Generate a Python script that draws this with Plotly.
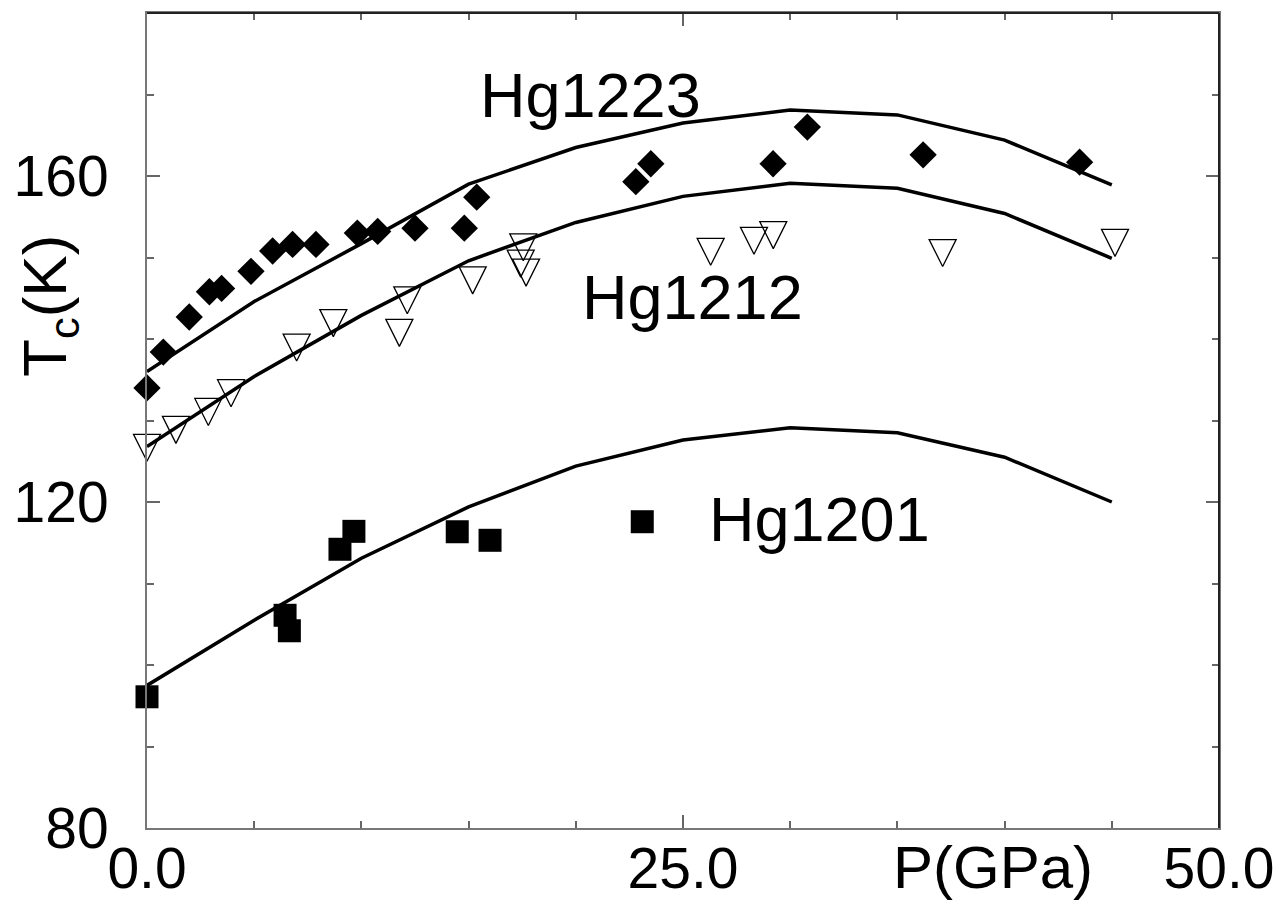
import plotly.graph_objects as go

# ---------------- data ----------------
P_MODEL = [0, 5, 10, 15, 20, 25, 30, 35, 40, 45]
TC_MODEL_1223 = [136.0, 144.6, 151.7, 159.0, 163.5, 166.5, 168.1, 167.5, 164.4, 158.9]
TC_MODEL_1212 = [126.8, 135.4, 142.9, 149.6, 154.3, 157.5, 159.1, 158.5, 155.4, 149.9]
TC_MODEL_1201 = [97.5, 105.5, 113.1, 119.4, 124.4, 127.6, 129.1, 128.5, 125.5, 120.0]

P_1223 = [0.0, 0.76, 1.97, 2.91, 3.48, 4.85, 5.86, 6.79, 7.88, 9.81, 10.76, 12.5,
          14.8, 15.38, 22.8, 23.5, 29.2, 30.8, 36.2, 43.5]
TC_1223 = [134.0, 138.4, 142.7, 145.8, 146.2, 148.3, 150.8, 151.6, 151.6, 153.0, 153.2, 153.6,
           153.6, 157.4, 159.3, 161.5, 161.5, 166.0, 162.6, 161.7]

P_1212 = [0.0, 1.35, 2.86, 3.92, 6.98, 8.69, 11.77, 12.14, 15.19, 17.55, 17.43, 17.68,
          26.29, 28.31, 29.21, 37.11, 45.15]
TC_1212 = [127.2, 129.4, 131.6, 133.9, 139.5, 142.5, 141.3, 145.3, 147.75, 151.8, 149.8, 148.7,
           151.25, 152.6, 153.3, 151.1, 152.35]

P_1201 = [0.0, 6.44, 6.64, 9.0, 9.65, 14.47, 16.0]
TC_1201 = [96.1, 106.1, 104.2, 114.2, 116.4, 116.35, 115.3]

X_TICKS = [0, 25, 50]
X_TICK_TEXT = ["0.0", "25.0", "50.0"]
Y_TICKS = [80, 120, 160]
Y_TICK_TEXT = ["80", "120", "160"]

LABELS = ["Hg1223", "Hg1212", "Hg1201"]
LABEL_POS = [(20.69, 170.0), (25.42, 145.2), (31.38, 117.94)]
KEY_POS_1201 = (23.1, 117.58)

FONT = "Liberation Sans, Arial, Helvetica, sans-serif"

fig = go.Figure()

for tc in (TC_MODEL_1223, TC_MODEL_1212, TC_MODEL_1201):
    fig.add_trace(go.Scatter(x=P_MODEL, y=tc, mode="lines",
                             line=dict(color="black", width=3.5),
                             showlegend=False, hoverinfo="skip"))

fig.add_trace(go.Scatter(x=P_1212, y=TC_1212, mode="markers", cliponaxis=False,
                         marker=dict(symbol="arrow-down-open", size=27, color="black",
                                     line=dict(width=1.3, color="black"), standoff=18),
                         showlegend=False))
fig.add_trace(go.Scatter(x=P_1223, y=TC_1223, mode="markers", cliponaxis=False,
                         marker=dict(symbol="diamond", size=21, color="black",
                                     line=dict(width=0)),
                         showlegend=False))
fig.add_trace(go.Scatter(x=P_1201, y=TC_1201, mode="markers", cliponaxis=False,
                         marker=dict(symbol="square", size=23, color="black",
                                     line=dict(width=0)),
                         showlegend=False))
# legend key for Hg1201
fig.add_trace(go.Scatter(x=[KEY_POS_1201[0]], y=[KEY_POS_1201[1]], mode="markers",
                         marker=dict(symbol="square", size=23, color="black", line=dict(width=0)),
                         showlegend=False, hoverinfo="skip"))

for txt, (px, py) in zip(LABELS, LABEL_POS):
    fig.add_annotation(x=px, y=py, xref="x", yref="y", text=txt, showarrow=False,
                       xanchor="center", yanchor="middle",
                       font=dict(family=FONT, size=63, color="black"))

# axis titles
fig.add_annotation(x=-0.0915, y=0.6405, xref="paper", yref="paper",
                   text="T<sub>c</sub>(K)", textangle=-90, showarrow=False,
                   xanchor="center", yanchor="middle",
                   font=dict(family=FONT, size=62, color="black"))
fig.add_annotation(x=0.789, y=-0.049, xref="paper", yref="paper",
                   text="P(GPa)", showarrow=False,
                   xanchor="center", yanchor="middle",
                   font=dict(family=FONT, size=60, color="black"))

axis_common = dict(showgrid=False, zeroline=False, showline=True, linewidth=2,
                   linecolor="#777777", mirror="ticks", ticks="inside", ticklen=13,
                   tickwidth=1.5, tickcolor="#666666", automargin=False,
                   tickfont=dict(family=FONT, size=57, color="black"))

fig.update_xaxes(range=[0, 50], tickvals=X_TICKS, ticktext=X_TICK_TEXT,
                 minor=dict(dtick=5, tick0=0, ticks="inside", ticklen=7,
                            tickwidth=1.5, tickcolor="#666666"),
                 ticklabelstandoff=-10, **axis_common)
fig.update_yaxes(range=[80, 180], tickvals=Y_TICKS, ticktext=Y_TICK_TEXT,
                 minor=dict(dtick=10, tick0=80, ticks="inside", ticklen=7,
                            tickwidth=1.5, tickcolor="#666666"),
                 ticklabelstandoff=25, **axis_common)

fig.update_layout(
    width=1283, height=915,
    margin=dict(l=147, r=64, t=13, b=87, autoexpand=False),
    plot_bgcolor="white", paper_bgcolor="white",
    font=dict(family=FONT, color="black"),
    shapes=[
        dict(type="line", xref="paper", yref="paper", x0=0, x1=1, y0=1, y1=1,
             line=dict(color="#222222", width=2)),
        dict(type="line", xref="paper", yref="paper", x0=1, x1=1, y0=0, y1=1,
             line=dict(color="#222222", width=2)),
    ],
)

fig.write_html("out.html", config={"displayModeBar": False},
               post_script="document.body.style.margin='0';document.body.style.overflow='hidden';")
